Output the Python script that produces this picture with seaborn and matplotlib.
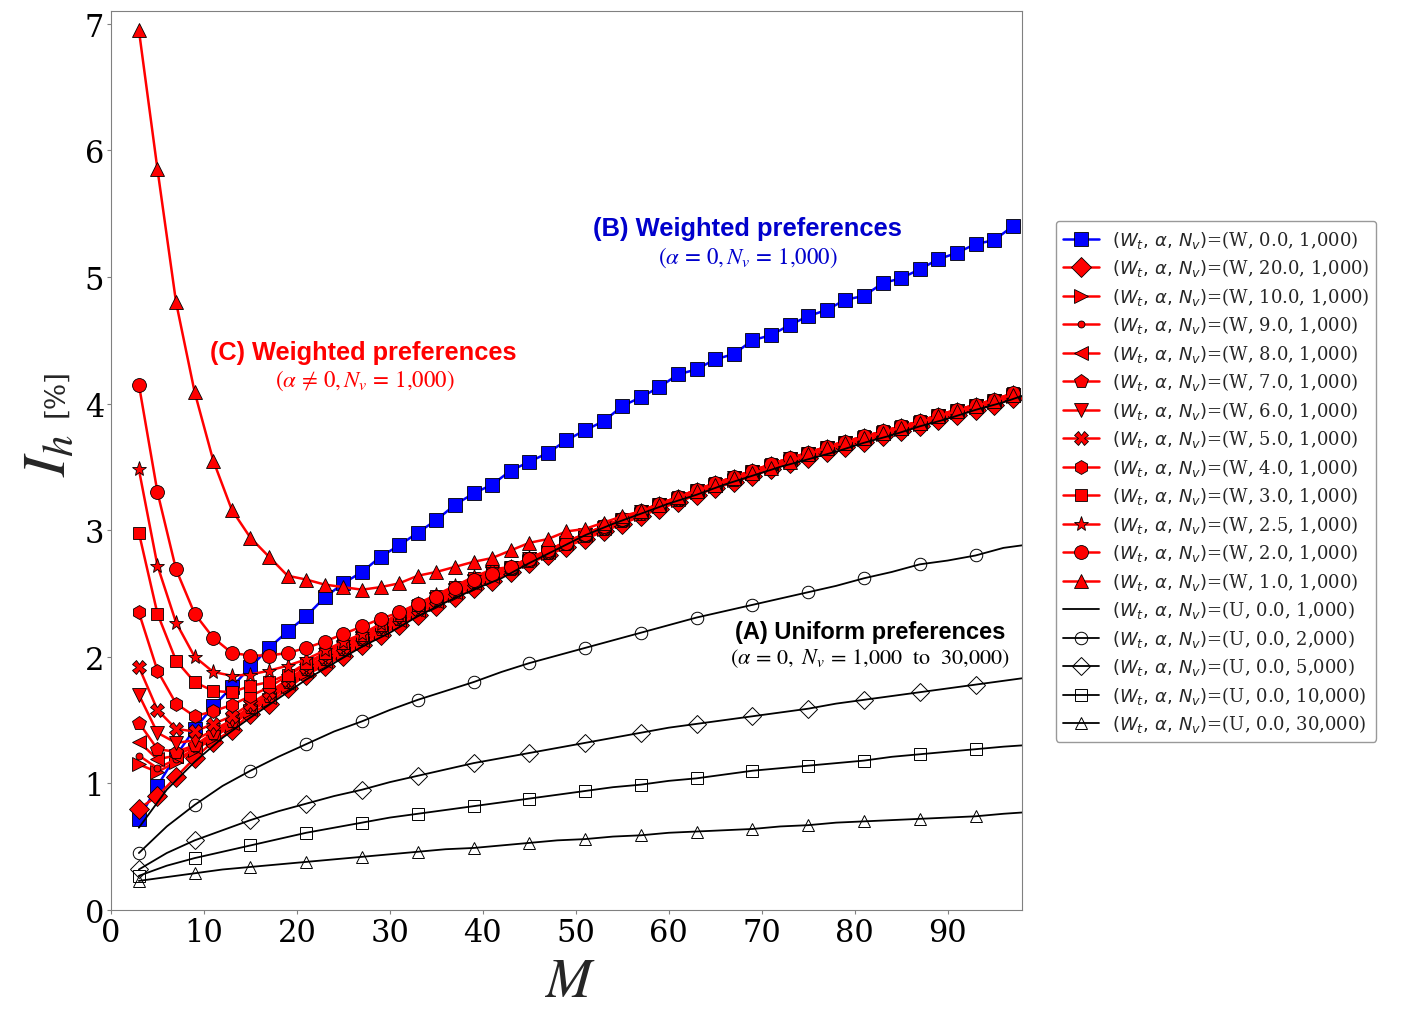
import numpy as np
import pandas as pd
import seaborn as sns
import matplotlib
matplotlib.use('Agg')
import matplotlib.pyplot as plt

sns.set_style('white')
plt.rcParams['font.family'] = ['DejaVu Serif']
plt.rcParams['mathtext.fontset'] = 'dejavusans'

# M values: weighted runs have markers at every odd M, uniform runs every 3rd M
M_w = list(range(3, 98, 2))
M_u = list(range(3, 97, 3)) + [98]

w_a00 = [0.72, 0.98, 1.22, 1.43, 1.61, 1.76, 1.92, 2.07, 2.20, 2.32, 2.47, 2.58, 2.67, 2.79, 2.88, 2.98,
         3.08, 3.20, 3.29, 3.36, 3.47, 3.54, 3.61, 3.71, 3.79, 3.86, 3.98, 4.05, 4.13, 4.23, 4.27, 4.35,
         4.39, 4.50, 4.54, 4.62, 4.69, 4.74, 4.82, 4.85, 4.95, 4.99, 5.06, 5.14, 5.19, 5.26, 5.29, 5.40]
w_a20 = [0.80, 0.90, 1.05, 1.20, 1.33, 1.42, 1.55, 1.63, 1.75, 1.86, 1.93, 2.01, 2.09, 2.17, 2.25, 2.33,
         2.40, 2.47, 2.54, 2.60, 2.67, 2.74, 2.80, 2.87, 2.93, 2.99, 3.05, 3.11, 3.17, 3.22, 3.28, 3.33,
         3.38, 3.43, 3.48, 3.53, 3.57, 3.62, 3.66, 3.70, 3.74, 3.78, 3.82, 3.87, 3.91, 3.95, 3.99, 4.04]
w_a10 = [1.15, 1.09, 1.17, 1.26, 1.36, 1.46, 1.57, 1.66, 1.77, 1.87, 1.95, 2.03, 2.11, 2.19, 2.27, 2.35,
         2.42, 2.49, 2.56, 2.62, 2.69, 2.76, 2.82, 2.89, 2.95, 3.01, 3.07, 3.13, 3.19, 3.24, 3.30, 3.35,
         3.40, 3.45, 3.50, 3.55, 3.59, 3.64, 3.68, 3.72, 3.76, 3.80, 3.84, 3.89, 3.93, 3.97, 4.01, 4.06]
w_a9 = [1.22, 1.12, 1.19, 1.27, 1.37, 1.47, 1.58, 1.67, 1.78, 1.88, 1.96, 2.04, 2.12, 2.20, 2.28, 2.36,
        2.43, 2.50, 2.57, 2.63, 2.69, 2.76, 2.82, 2.89, 2.95, 3.01, 3.07, 3.13, 3.19, 3.24, 3.30, 3.35,
        3.40, 3.45, 3.50, 3.55, 3.59, 3.64, 3.68, 3.72, 3.76, 3.80, 3.84, 3.89, 3.93, 3.97, 4.01, 4.06]
w_a8 = [1.33, 1.19, 1.22, 1.29, 1.39, 1.48, 1.59, 1.68, 1.79, 1.89, 1.97, 2.05, 2.13, 2.21, 2.29, 2.37,
        2.44, 2.51, 2.58, 2.64, 2.70, 2.77, 2.83, 2.90, 2.96, 3.02, 3.08, 3.14, 3.20, 3.25, 3.31, 3.36,
        3.41, 3.46, 3.51, 3.56, 3.60, 3.65, 3.69, 3.73, 3.77, 3.81, 3.85, 3.90, 3.94, 3.98, 4.02, 4.07]
w_a7 = [1.48, 1.27, 1.25, 1.30, 1.40, 1.49, 1.60, 1.69, 1.80, 1.90, 1.98, 2.06, 2.14, 2.22, 2.30, 2.38,
        2.45, 2.52, 2.59, 2.65, 2.69, 2.76, 2.82, 2.89, 2.95, 3.01, 3.07, 3.13, 3.19, 3.24, 3.30, 3.35,
        3.40, 3.45, 3.50, 3.55, 3.59, 3.64, 3.68, 3.72, 3.76, 3.80, 3.84, 3.89, 3.93, 3.97, 4.01, 4.06]
w_a6 = [1.70, 1.40, 1.32, 1.34, 1.42, 1.50, 1.61, 1.70, 1.81, 1.91, 1.99, 2.07, 2.15, 2.23, 2.31, 2.39,
        2.46, 2.53, 2.60, 2.66, 2.70, 2.77, 2.83, 2.90, 2.96, 3.02, 3.08, 3.14, 3.20, 3.25, 3.31, 3.36,
        3.41, 3.46, 3.51, 3.56, 3.60, 3.65, 3.69, 3.73, 3.77, 3.81, 3.85, 3.90, 3.94, 3.98, 4.02, 4.07]
w_a5 = [1.92, 1.58, 1.43, 1.41, 1.47, 1.53, 1.63, 1.72, 1.82, 1.92, 2.00, 2.08, 2.16, 2.24, 2.31, 2.38,
        2.45, 2.52, 2.59, 2.65, 2.70, 2.77, 2.83, 2.90, 2.96, 3.02, 3.08, 3.14, 3.20, 3.25, 3.31, 3.36,
        3.41, 3.46, 3.51, 3.56, 3.60, 3.65, 3.69, 3.73, 3.77, 3.81, 3.85, 3.90, 3.94, 3.98, 4.02, 4.07]
w_a4 = [2.35, 1.89, 1.63, 1.53, 1.57, 1.62, 1.69, 1.76, 1.85, 1.94, 2.02, 2.10, 2.16, 2.24, 2.32, 2.40,
        2.47, 2.54, 2.61, 2.67, 2.70, 2.77, 2.83, 2.90, 2.96, 3.02, 3.08, 3.14, 3.20, 3.25, 3.31, 3.36,
        3.41, 3.46, 3.51, 3.56, 3.60, 3.65, 3.69, 3.73, 3.77, 3.81, 3.85, 3.90, 3.94, 3.98, 4.02, 4.07]
w_a3 = [2.98, 2.34, 1.97, 1.80, 1.73, 1.72, 1.77, 1.80, 1.86, 1.95, 2.03, 2.11, 2.17, 2.25, 2.33, 2.41,
        2.48, 2.55, 2.62, 2.68, 2.71, 2.78, 2.84, 2.91, 2.97, 3.03, 3.09, 3.15, 3.21, 3.26, 3.32, 3.37,
        3.42, 3.47, 3.52, 3.57, 3.61, 3.66, 3.70, 3.74, 3.78, 3.82, 3.86, 3.91, 3.95, 3.99, 4.03, 4.08]
w_a25 = [3.48, 2.72, 2.27, 2.00, 1.88, 1.85, 1.86, 1.89, 1.93, 1.98, 2.05, 2.12, 2.18, 2.26, 2.34, 2.42,
         2.49, 2.56, 2.63, 2.69, 2.71, 2.78, 2.84, 2.91, 2.97, 3.03, 3.09, 3.15, 3.21, 3.26, 3.32, 3.37,
         3.42, 3.47, 3.52, 3.57, 3.61, 3.66, 3.70, 3.74, 3.78, 3.82, 3.86, 3.91, 3.95, 3.99, 4.03, 4.08]
w_a2 = [4.15, 3.30, 2.69, 2.34, 2.15, 2.03, 2.01, 2.01, 2.03, 2.07, 2.12, 2.18, 2.24, 2.30, 2.35, 2.42,
        2.47, 2.54, 2.61, 2.65, 2.71, 2.77, 2.84, 2.90, 2.97, 3.03, 3.09, 3.15, 3.21, 3.26, 3.32, 3.37,
        3.42, 3.47, 3.52, 3.57, 3.61, 3.66, 3.70, 3.74, 3.78, 3.82, 3.86, 3.91, 3.95, 3.99, 4.03, 4.08]
w_a1 = [6.95, 5.85, 4.80, 4.09, 3.55, 3.16, 2.94, 2.79, 2.64, 2.61, 2.57, 2.55, 2.53, 2.55, 2.58, 2.64,
        2.67, 2.71, 2.75, 2.78, 2.84, 2.90, 2.93, 2.99, 3.01, 3.06, 3.11, 3.15, 3.20, 3.26, 3.31, 3.36,
        3.41, 3.45, 3.49, 3.54, 3.60, 3.65, 3.69, 3.73, 3.77, 3.81, 3.85, 3.90, 3.94, 3.98, 4.02, 4.07]

u_1000 = [0.65, 0.95, 1.17, 1.36, 1.52, 1.67, 1.82, 1.95, 2.08, 2.19, 2.32, 2.43, 2.53, 2.62, 2.74, 2.85,
          2.96, 3.05, 3.13, 3.21, 3.28, 3.36, 3.43, 3.50, 3.56, 3.62, 3.69, 3.75, 3.82, 3.88, 3.95, 4.01, 4.06]
u_2000 = [0.45, 0.66, 0.83, 0.98, 1.10, 1.21, 1.31, 1.41, 1.49, 1.58, 1.66, 1.73, 1.80, 1.88, 1.95, 2.01,
          2.07, 2.13, 2.19, 2.25, 2.31, 2.36, 2.41, 2.46, 2.51, 2.56, 2.62, 2.67, 2.73, 2.76, 2.80, 2.86, 2.88]
u_5000 = [0.32, 0.45, 0.55, 0.63, 0.71, 0.78, 0.84, 0.90, 0.95, 1.01, 1.06, 1.11, 1.16, 1.20, 1.24, 1.28,
          1.32, 1.36, 1.40, 1.44, 1.47, 1.50, 1.53, 1.56, 1.59, 1.63, 1.66, 1.69, 1.72, 1.75, 1.78, 1.81, 1.83]
u_10000 = [0.27, 0.35, 0.41, 0.46, 0.51, 0.56, 0.61, 0.65, 0.69, 0.73, 0.76, 0.79, 0.82, 0.85, 0.88, 0.91,
           0.94, 0.97, 0.99, 1.02, 1.04, 1.07, 1.10, 1.12, 1.14, 1.16, 1.18, 1.21, 1.23, 1.25, 1.27, 1.29, 1.30]
u_30000 = [0.23, 0.26, 0.29, 0.32, 0.34, 0.36, 0.38, 0.40, 0.42, 0.44, 0.46, 0.48, 0.49, 0.51, 0.53, 0.55,
           0.56, 0.58, 0.59, 0.61, 0.62, 0.63, 0.64, 0.66, 0.67, 0.69, 0.70, 0.71, 0.72, 0.73, 0.74, 0.76, 0.77]

head = r'$(W_t,\, \alpha,\, N_v)$='
weighted = [
    ('(W, 0.0, 1,000)', w_a00, 's', 10, 'blue'),
    ('(W, 20.0, 1,000)', w_a20, 'D', 10, 'red'),
    ('(W, 10.0, 1,000)', w_a10, '>', 10, 'red'),
    ('(W, 9.0, 1,000)', w_a9, 'o', 5, 'red'),
    ('(W, 8.0, 1,000)', w_a8, '<', 10, 'red'),
    ('(W, 7.0, 1,000)', w_a7, 'p', 10, 'red'),
    ('(W, 6.0, 1,000)', w_a6, 'v', 10, 'red'),
    ('(W, 5.0, 1,000)', w_a5, 'X', 10, 'red'),
    ('(W, 4.0, 1,000)', w_a4, 'h', 10, 'red'),
    ('(W, 3.0, 1,000)', w_a3, 's', 9, 'red'),
    ('(W, 2.5, 1,000)', w_a25, '*', 11, 'red'),
    ('(W, 2.0, 1,000)', w_a2, 'o', 10, 'red'),
    ('(W, 1.0, 1,000)', w_a1, '^', 10, 'red'),
]
uniform = [
    ('(U, 0.0, 1,000)', u_1000, None),
    ('(U, 0.0, 2,000)', u_2000, 'o'),
    ('(U, 0.0, 5,000)', u_5000, 'D'),
    ('(U, 0.0, 10,000)', u_10000, 's'),
    ('(U, 0.0, 30,000)', u_30000, '^'),
]

fig = plt.figure(figsize=(14.12, 10.12), dpi=100)
ax = fig.add_axes([0.0786, 0.0998, 0.6452, 0.8883])

for lab, vals, mk, ms, col in weighted:
    sns.lineplot(x=M_w, y=vals, ax=ax, color=col, lw=1.8, marker=mk, markersize=ms,
                 markeredgecolor='black', markeredgewidth=0.6, label=head + lab)

mark_idx = list(range(0, len(M_u) - 1, 2))
for lab, vals, mk in uniform:
    if mk is None:
        sns.lineplot(x=M_u, y=vals, ax=ax, color='black', lw=1.3, label=head + lab)
    else:
        sns.lineplot(x=M_u, y=vals, ax=ax, color='black', lw=1.3, marker=mk, markersize=9,
                     markerfacecolor='none', markeredgecolor='black', markeredgewidth=0.7,
                     markevery=mark_idx, label=head + lab)

ax.set_xlim(0, 98)
ax.set_ylim(0, 7.1)
ax.set_xticks(range(0, 100, 10))
ax.set_yticks(range(0, 8))
ax.tick_params(labelsize=22, length=3, color='gray', labelcolor='black', left=True, bottom=True, pad=2)
for s in ax.spines.values():
    s.set_color('gray')
ax.set_xlabel('')
ax.set_ylabel('')

# annotations
ax.text(68.5, 5.39, '(B) Weighted preferences', color='#0000CC', fontsize=18.4,
        family='Liberation Sans', weight='bold', ha='center', va='center')
ax.text(68.5, 5.16, r'$(\alpha\,=\,0, N_v\,=\,1{,}000)$', color='#0000CC', fontsize=16.5,
        math_fontfamily='stix', ha='center', va='center')
ax.text(27.1, 4.41, '(C) Weighted preferences', color='red', fontsize=18.3,
        family='Liberation Sans', weight='bold', ha='center', va='center')
ax.text(27.3, 4.19, r'$(\alpha\,\neq\,0, N_v\,=\,1{,}000)$', color='red', fontsize=16.5,
        math_fontfamily='stix', ha='center', va='center')
ax.text(81.7, 2.20, '(A) Uniform preferences', color='black', fontsize=17,
        family='Liberation Sans', weight='bold', ha='center', va='center')
ax.text(81.7, 1.99, r'$(\alpha\,=\,0,\ N_v\,=\,1{,}000\ \ \mathrm{to}\ \ 30{,}000)$', color='black',
        fontsize=16, math_fontfamily='stix', ha='center', va='center')

fig.text(570 / 1412, 1 - 982 / 1012, r'$M$', fontsize=40, math_fontfamily='stix', ha='center', va='center')
fig.text(48 / 1412, 1 - 455 / 1012, r'$I_h$', fontsize=44, math_fontfamily='stix', rotation=90,
         ha='center', va='center')
fig.text(56 / 1412, 1 - 393 / 1012, '[%]', fontsize=20, rotation=90, ha='center', va='center')

ax.legend(loc='center left', bbox_to_anchor=(1.027, 0.477), fontsize=13, frameon=True,
          edgecolor='gray', handlelength=2.0, handletextpad=0.7, labelspacing=0.36, borderpad=0.4)

fig.savefig('out.png', dpi=100)
